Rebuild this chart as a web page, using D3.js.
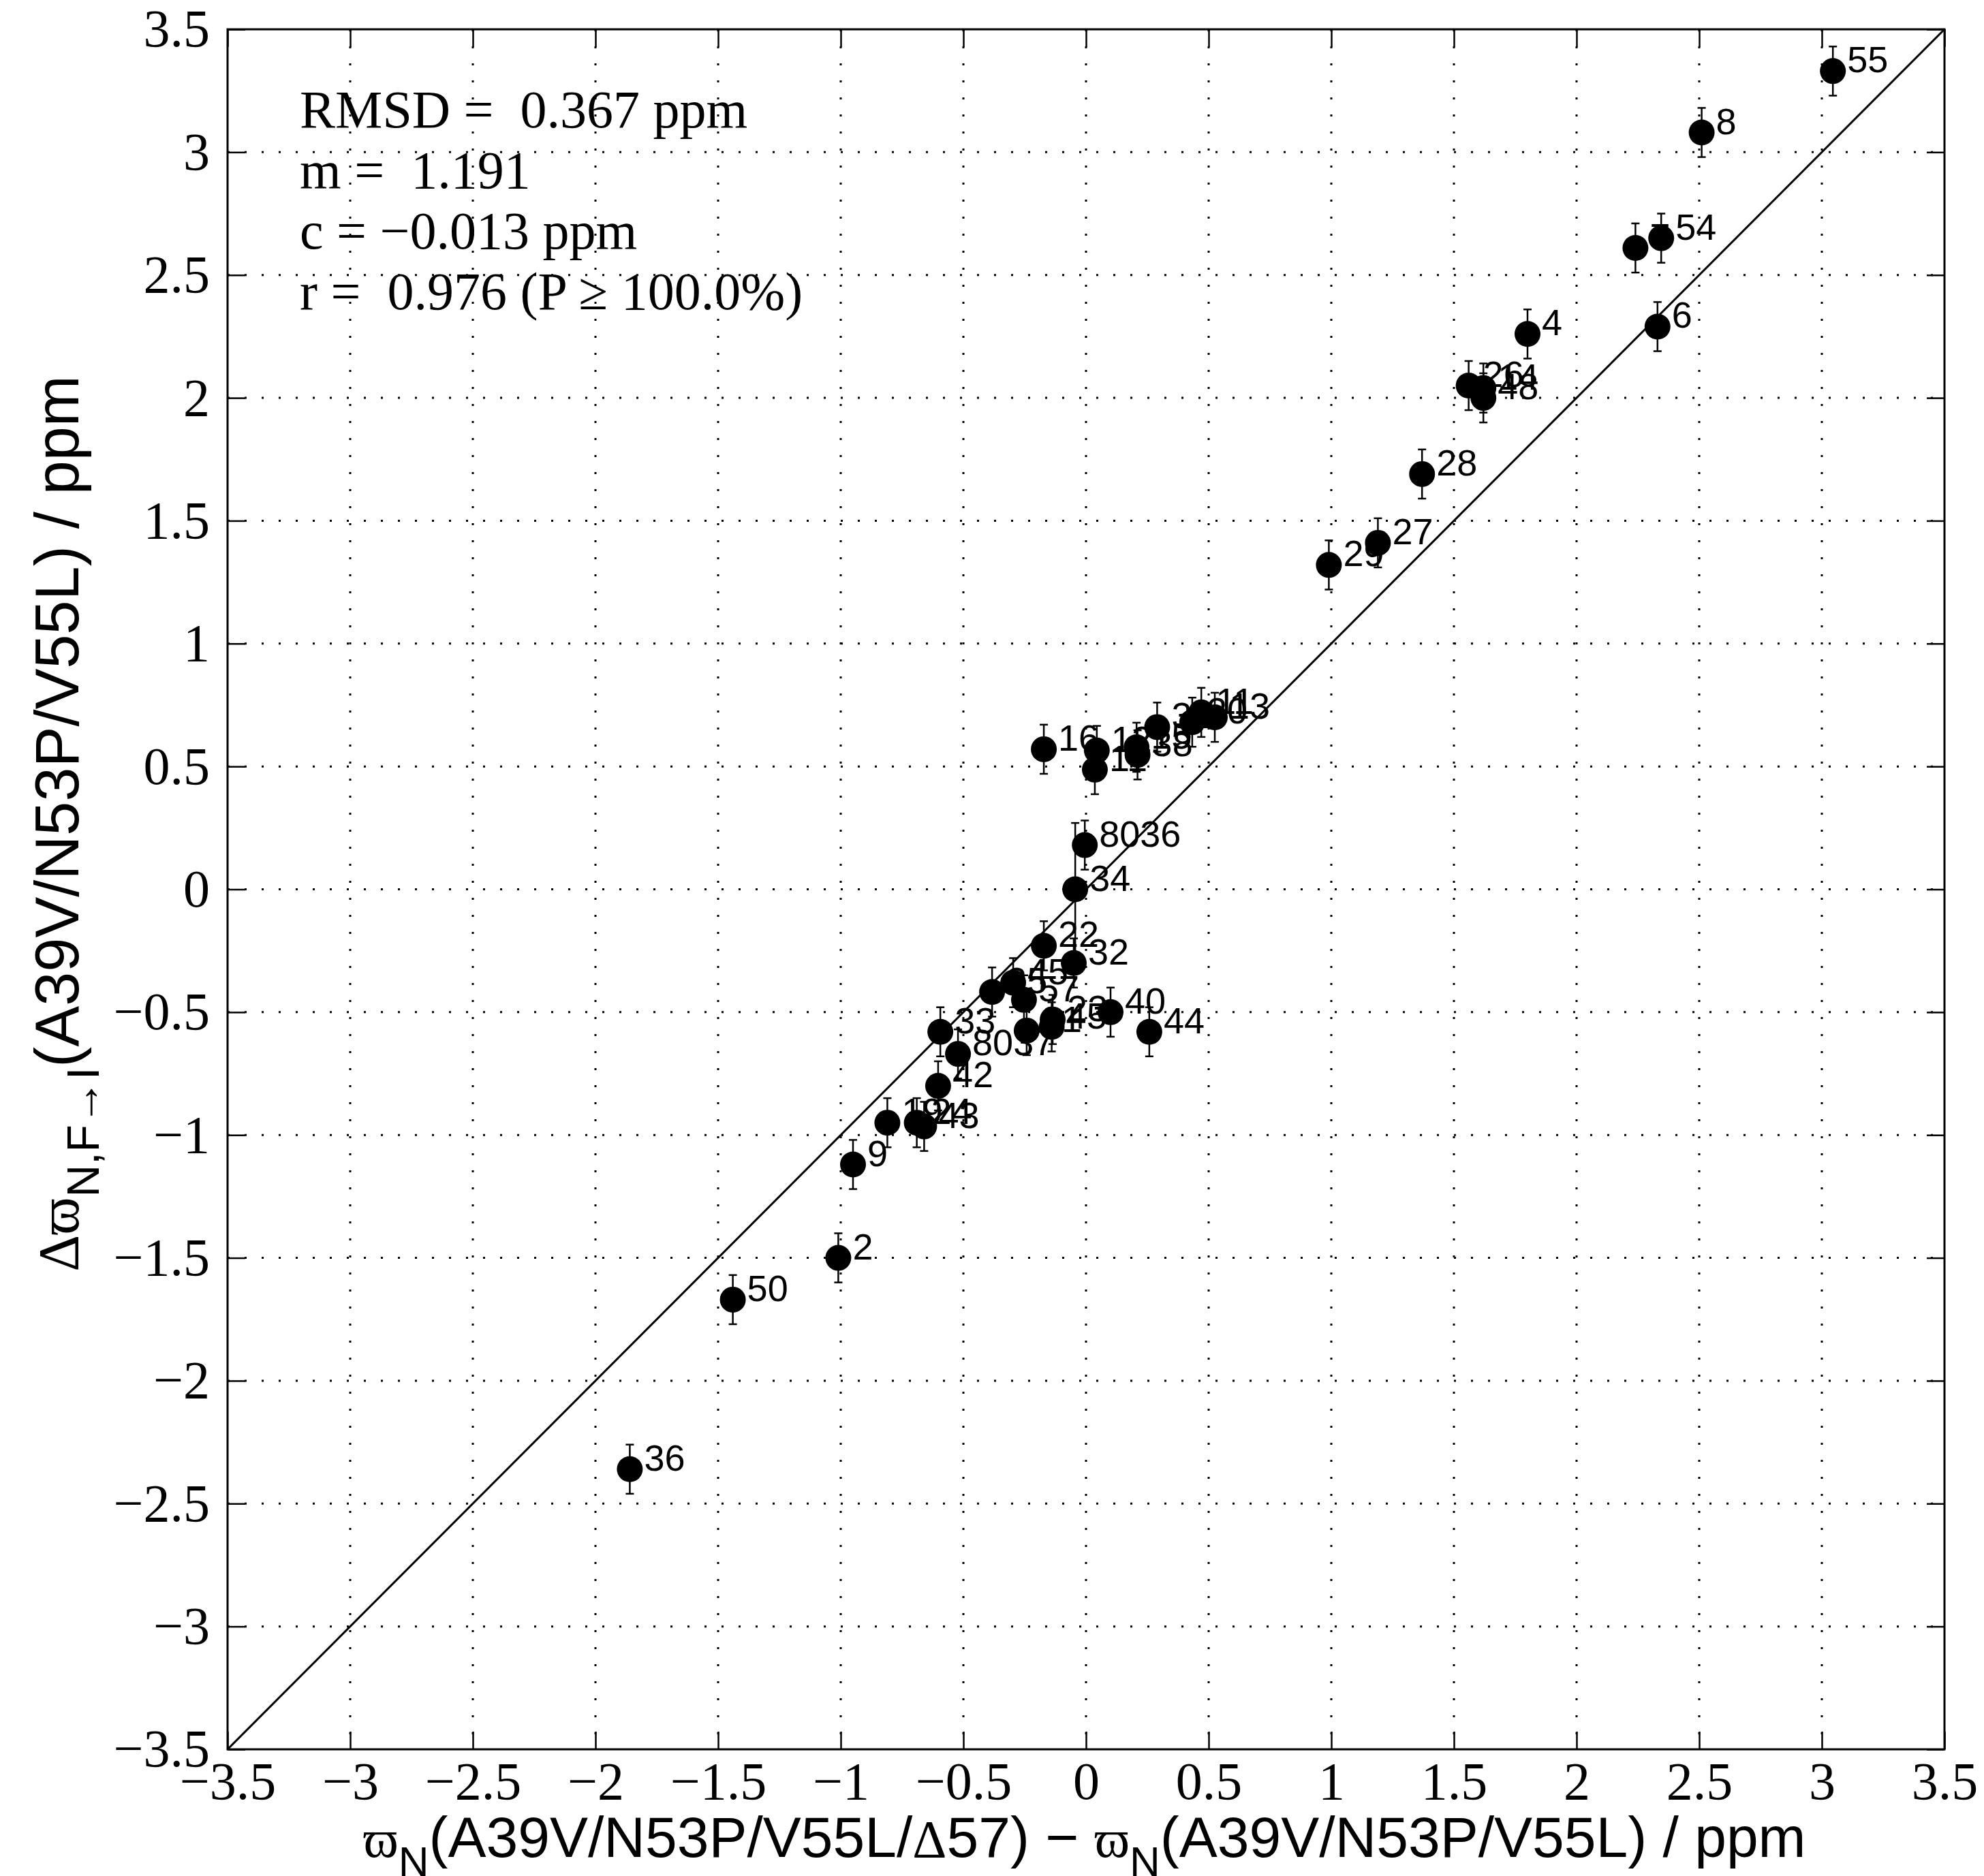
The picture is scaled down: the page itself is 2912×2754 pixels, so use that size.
<!DOCTYPE html>
<html>
<head>
<meta charset="utf-8">
<script src="https://cdn.jsdelivr.net/npm/d3@7"></script>
<style>
  html, body { margin: 0; padding: 0; background: #fff; }
  svg { display: block; }
</style>
</head>
<body>
<div id="chart"></div>
<script>
// residue labels, x = shift difference, y = delta varpi, err = y error bar
const labels = ["55", "8", "7", "54", "6", "4", "26", "14", "48", "28", "27", "29",
    "16", "12", "11", "15", "38", "31", "20", "11", "13",
    "8036", "34", "22", "32", "35", "45", "57", "21", "23", "45", "40", "44",
    "33", "8037", "42", "19", "24", "43", "9", "2", "50", "36"];
const xVals = [3.045, 2.51, 2.24, 2.345, 2.33, 1.80, 1.56, 1.62, 1.62, 1.37, 1.19, 0.99,
    -0.172, 0.044, 0.036, 0.206, 0.21, 0.29, 0.433, 0.47, 0.525,
    -0.005, -0.044, -0.172, -0.05, -0.383, -0.297, -0.253, -0.242, -0.136, -0.14, 0.10, 0.258,
    -0.594, -0.522, -0.603, -0.81, -0.69, -0.66, -0.95, -1.01, -1.44, -1.86];
const yVals = [3.33, 3.08, 2.61, 2.65, 2.29, 2.26, 2.05, 2.04, 2.00, 1.69, 1.41, 1.32,
    0.57, 0.565, 0.487, 0.578, 0.547, 0.66, 0.68, 0.72, 0.70,
    0.18, 0.0, -0.23, -0.30, -0.418, -0.38, -0.45, -0.575, -0.53, -0.56, -0.50, -0.58,
    -0.58, -0.67, -0.80, -0.95, -0.95, -0.965, -1.12, -1.50, -1.67, -2.36];
const errVals = [0.1, 0.1, 0.1, 0.1, 0.1, 0.1, 0.1, 0.1, 0.1, 0.1, 0.1, 0.1,
    0.1, 0.1, 0.1, 0.1, 0.1, 0.1, 0.1, 0.1, 0.1,
    0.1, 0.27, 0.1, 0.1, 0.1, 0.1, 0.1, 0.1, 0.1, 0.1, 0.1, 0.1,
    0.1, 0.1, 0.1, 0.1, 0.1, 0.1, 0.1, 0.1, 0.1, 0.1];

const tickValues = [-3.5, -3, -2.5, -2, -1.5, -1, -0.5, 0, 0.5, 1, 1.5, 2, 2.5, 3, 3.5];
const statsLines = ["RMSD =  0.367 ppm", "m =  1.191", "c = \u22120.013 ppm", "r =  0.976 (P \u2265 100.0%)"];

const W = 2912, H = 2754;
const margin = { top: 43, right: 58, bottom: 186, left: 334 };
const serif = "'Liberation Serif', 'Times New Roman', serif";
const sans = "'Liberation Sans', Arial, Helvetica, sans-serif";

const svg = d3.select("#chart").append("svg")
    .attr("width", W).attr("height", H)
    .attr("viewBox", [0, 0, W, H]);

const x = d3.scaleLinear().domain([-3.5, 3.5]).range([margin.left, W - margin.right]);
const y = d3.scaleLinear().domain([-3.5, 3.5]).range([H - margin.bottom, margin.top]);

const fmt = d => (d < 0 ? "\u2212" : "") + Math.abs(d);

// dotted grid
const inner = tickValues.slice(1, -1);
svg.append("g").selectAll("line.gx").data(inner).join("line")
    .attr("x1", d => x(d)).attr("x2", d => x(d))
    .attr("y1", y(3.5)).attr("y2", y(-3.5))
    .attr("stroke", "#000").attr("stroke-width", 3)
    .attr("stroke-dasharray", "3,22");
svg.append("g").selectAll("line.gy").data(inner).join("line")
    .attr("y1", d => y(d)).attr("y2", d => y(d))
    .attr("x1", x(-3.5)).attr("x2", x(3.5))
    .attr("stroke", "#000").attr("stroke-width", 3)
    .attr("stroke-dasharray", "3,22");

// axes (ticks point inward)
const tickLen = 26;
function styleAxis(g) {
    g.select(".domain").remove();
    g.selectAll(".tick line").attr("stroke", "#000").attr("stroke-width", 2.5);
    g.selectAll(".tick text").attr("font-family", serif).attr("font-size", 78).attr("fill", "#000");
}
svg.append("g").attr("transform", `translate(0,${y(-3.5)})`)
    .call(d3.axisBottom(x).tickValues(tickValues).tickSize(-tickLen).tickPadding(18).tickFormat(fmt))
    .call(styleAxis);
svg.append("g").attr("transform", `translate(0,${y(3.5)})`)
    .call(d3.axisTop(x).tickValues(tickValues).tickSize(-tickLen).tickFormat(""))
    .call(styleAxis);
svg.append("g").attr("transform", `translate(${x(-3.5)},0)`)
    .call(d3.axisLeft(y).tickValues(tickValues).tickSize(-tickLen).tickPadding(26).tickFormat(fmt))
    .call(styleAxis);
svg.append("g").attr("transform", `translate(${x(3.5)},0)`)
    .call(d3.axisRight(y).tickValues(tickValues).tickSize(-tickLen).tickFormat(""))
    .call(styleAxis);

// box
svg.append("rect")
    .attr("x", x(-3.5)).attr("y", y(3.5))
    .attr("width", x(3.5) - x(-3.5)).attr("height", y(-3.5) - y(3.5))
    .attr("fill", "none").attr("stroke", "#000").attr("stroke-width", 3);

// y = x reference line
svg.append("line")
    .attr("x1", x(-3.5)).attr("y1", y(-3.5))
    .attr("x2", x(3.5)).attr("y2", y(3.5))
    .attr("stroke", "#000").attr("stroke-width", 3);

const pts = labels.map((l, i) => ({ label: l, x: xVals[i], y: yVals[i], e: errVals[i] }));

// residue labels
svg.append("g").selectAll("text").data(pts).join("text")
    .attr("x", d => x(d.x) + 21)
    .attr("y", d => y(d.y) + 2)
    .attr("font-family", sans).attr("font-size", 54)
    .text(d => d.label);

// error bars
const cap = 6;
const eb = svg.append("g").attr("stroke", "#000").attr("stroke-width", 2.5);
eb.selectAll("line.v").data(pts).join("line")
    .attr("x1", d => x(d.x)).attr("x2", d => x(d.x))
    .attr("y1", d => y(d.y + d.e)).attr("y2", d => y(d.y - d.e));
eb.selectAll("line.t").data(pts).join("line")
    .attr("x1", d => x(d.x) - cap).attr("x2", d => x(d.x) + cap)
    .attr("y1", d => y(d.y + d.e)).attr("y2", d => y(d.y + d.e));
eb.selectAll("line.b").data(pts).join("line")
    .attr("x1", d => x(d.x) - cap).attr("x2", d => x(d.x) + cap)
    .attr("y1", d => y(d.y - d.e)).attr("y2", d => y(d.y - d.e));

// markers
svg.append("g").selectAll("circle").data(pts).join("circle")
    .attr("cx", d => x(d.x)).attr("cy", d => y(d.y))
    .attr("r", 19).attr("fill", "#000");

// fit statistics
svg.append("g").selectAll("text").data(statsLines).join("text")
    .attr("x", 440)
    .attr("y", (d, i) => 187 + i * 89)
    .attr("font-family", serif).attr("font-size", 78)
    .style("white-space", "pre")
    .text(d => d);

// x label
const xl = svg.append("text")
    .attr("x", 1592).attr("y", 2726)
    .attr("text-anchor", "middle")
    .attr("font-family", sans).attr("font-size", 84);
xl.append("tspan").attr("font-family", serif).attr("font-size", 78).text("\u03D6");
xl.append("tspan").attr("font-size", 62).attr("dy", 28).text("N");
xl.append("tspan").attr("dy", -28).text("(A39V/N53P/V55L/");
xl.append("tspan").attr("font-family", serif).attr("font-size", 78).text("\u0394");
xl.append("tspan").style("white-space", "pre").text("57) \u2212 ");
xl.append("tspan").attr("font-family", serif).attr("font-size", 78).text("\u03D6");
xl.append("tspan").attr("font-size", 62).attr("dy", 28).text("N");
xl.append("tspan").attr("dy", -28).text("(A39V/N53P/V55L) / ppm");

// y label
const yl = svg.append("text")
    .attr("transform", "translate(115,1209) rotate(-90)")
    .attr("text-anchor", "middle")
    .attr("font-family", sans).attr("font-size", 90);
yl.append("tspan").attr("font-family", serif).attr("font-size", 84).text("\u0394\u03D6");
yl.append("tspan").attr("font-size", 66).attr("dy", 30).text("N,F\u2192I");
yl.append("tspan").attr("dy", -30).text("(A39V/N53P/V55L) / ppm");
</script>
</body>
</html>
